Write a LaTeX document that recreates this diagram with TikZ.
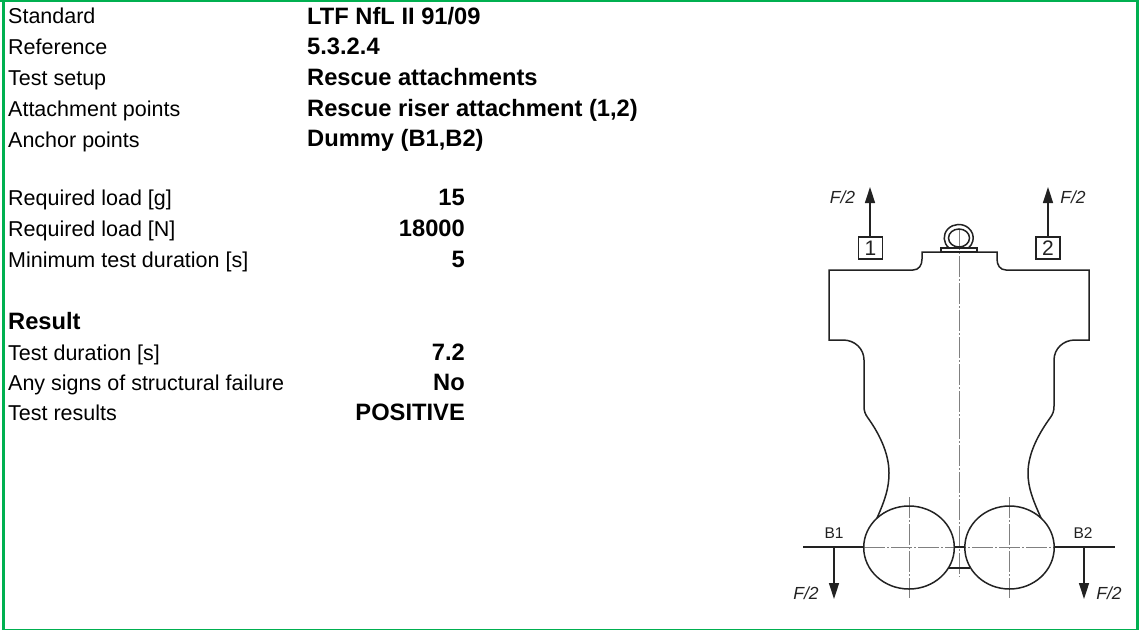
\documentclass[tikz,border=0pt]{standalone}
\usepackage{fontspec}
\setmainfont{Liberation Sans}
\newfontfamily\drawfont{Liberation Sans}
\definecolor{frame}{HTML}{00B050}
\definecolor{ink}{HTML}{222222}
\definecolor{cline}{HTML}{808080}
\tikzset{
  lbl/.style={anchor=base west,inner sep=0pt,font=\fontsize{21.5}{24}\selectfont,text=black},
  val/.style={anchor=base west,inner sep=0pt,font=\fontsize{23.7}{26}\selectfont\bfseries,text=black},
  num/.style={anchor=base east,inner sep=0pt,font=\fontsize{23.7}{26}\selectfont\bfseries,text=black},
  body/.style={draw=ink,line width=1.5pt},
  axis/.style={draw=cline,line width=1pt,dash pattern=on 21pt off 2pt on 2pt off 2pt},
  force/.style={draw=ink,line width=1.4pt,-{Triangle[length=16pt,width=10pt]}},
  tag/.style={draw=ink,line width=1.3pt,minimum width=24pt,minimum height=22pt,inner sep=0pt,font=\fontsize{21}{21}\selectfont,text=ink},
  small/.style={inner sep=0pt,font=\drawfont\fontsize{15.5}{16}\selectfont,text=ink},
  smallit/.style={small,font=\drawfont\itshape\fontsize{17.5}{18}\selectfont}
}
\usetikzlibrary{arrows.meta}
\begin{document}
\begin{tikzpicture}[x=1pt,y=-1pt]
\useasboundingbox (0,0) rectangle (1139,630);
\draw[frame,line width=3.3pt] (3.3,0) -- (3.3,629.8);
\draw[frame,line width=2pt] (0,1) -- (1139,1);
\draw[frame,line width=1.2pt] (1.7,629.1) -- (1139,629.1);
\draw[frame,line width=2.6pt] (1137.7,0) -- (1137.7,630);
% text table
\node[lbl] (a1) at (8,23) {Standard};
\node[lbl] (a2) at (8,54) {Reference};
\node[lbl] (a3) at (8,85) {Test setup};
\node[lbl] (a4) at (8,116) {Attachment points};
\node[lbl] (a5) at (8,147) {Anchor points};
\node[val] (b1) at (307,24) {LTF NfL II 91/09};
\node[val] (b2) at (307,54) {5.3.2.4};
\node[val] (b3) at (307,85) {Rescue attachments};
\node[val] (b4) at (307,116) {Rescue riser attachment (1,2)};
\node[val] (b5) at (307,146) {Dummy (B1,B2)};
\node[lbl] (c1) at (8,205) {Required load [g]};
\node[lbl] (c2) at (8,236) {Required load [N]};
\node[lbl] (c3) at (8,267) {Minimum test duration [s]};
\node[num] (d1) at (465,205) {15};
\node[num] (d2) at (465,236) {18000};
\node[num] (d3) at (465,267) {5};
\node[val] (r0) at (8,329) {Result};
\node[lbl] (e1) at (8,360) {Test duration [s]};
\node[lbl] (e2) at (8,390) {Any signs of structural failure};
\node[lbl] (e3) at (8,420) {Test results};
\node[num] (f1) at (465,360) {7.2};
\node[num] (f2) at (465,390) {No};
\node[num] (f3) at (465,420) {POSITIVE};
% axes
\draw[axis] (959,229) -- (959,577);
\draw[axis] (909,497) -- (909,598);
\draw[axis] (1009,497) -- (1009,598);
\draw[axis] (864,547) -- (1054,547);
% outline
\draw[body] (877,518) .. controls (885,500) and (889,488) .. (889,473)
  .. controls (889,452) and (878,432) .. (868,418)
  .. controls (865,414) and (864,411) .. (864,406) -- (864,360)
  .. controls (864,349) and (855,340) .. (843,340) -- (829,340) -- (829,270) -- (913,270)
  .. controls (919,270) and (922,265) .. (922,259) -- (922,252) -- (997,252) -- (997,259)
  .. controls (997,265) and (1000,270) .. (1006,270) -- (1089,270) -- (1089,340) -- (1075,340)
  .. controls (1063,340) and (1054,349) .. (1054,360) -- (1054,406)
  .. controls (1054,411) and (1053,414) .. (1050,418)
  .. controls (1040,432) and (1028,452) .. (1028,473)
  .. controls (1028,488) and (1033,500) .. (1041,518);
\draw[body] (941,252) rectangle (977,248);
\draw[body] (949,248) arc[start angle=132,end angle=408,x radius=14.5,y radius=13.5];
\draw[body] (959,238) ellipse[x radius=10.5,y radius=9];
\draw[body] (909,547.5) ellipse[x radius=45.3,y radius=41.5];
\draw[body] (1009.5,547.5) ellipse[x radius=44.7,y radius=41.5];
\draw[body] (948,568) -- (970,568);
\draw[body] (954,547) -- (965,547);
% horizontal bars
\coordinate (bl) at (803,547); \coordinate (blc) at (864,547);
\coordinate (br) at (1115,547); \coordinate (brc) at (1054,547);
\draw[body] (bl) -- (blc);
\draw[body] (brc) -- (br);
% tags and forces
\node[tag] (t1) at (870.5,248) {1};
\node[tag] (t2) at (1048,248) {2};
\coordinate (u1) at (870,187); \coordinate (u2) at (1048,187);
\coordinate (s1) at (834,547); \coordinate (s2) at (1084,547);
\coordinate (v1) at (834,599); \coordinate (v2) at (1084,599);
\draw[force] (t1.north -| u1) -- (u1);
\draw[force] (t2.north -| u2) -- (u2);
\draw[force] (s1) -- (v1);
\draw[force] (s2) -- (v2);
\node[smallit] (l1) at (842.5,197) {F/2};
\node[smallit] (l2) at (1073,197) {F/2};
\node[smallit] (l3) at (806,593) {F/2};
\node[smallit] (l4) at (1109,593) {F/2};
\node[small] (l5) at (834,533) {B1};
\node[small] (l6) at (1083,533) {B2};
\end{tikzpicture}
\end{document}
